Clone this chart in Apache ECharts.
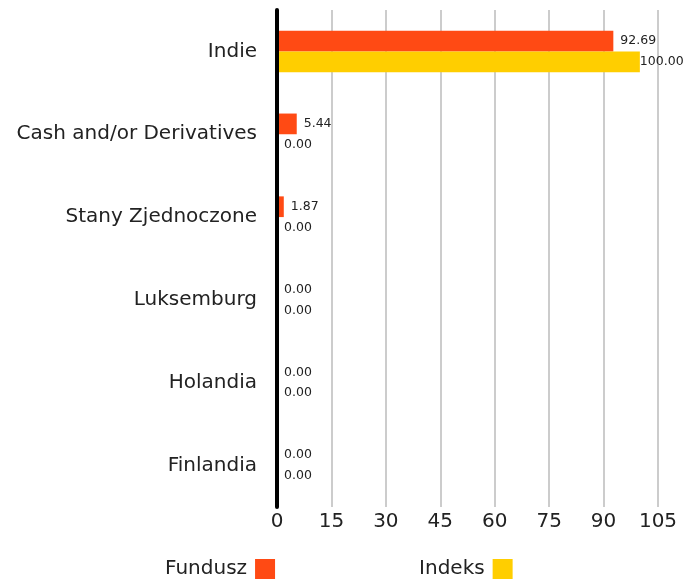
<!DOCTYPE html>
<html lang="pl">
<head>
    <meta charset="UTF-8">
    <title>Ekspozycja geograficzna</title>
    <script type="text/javascript" src="https://cdn.jsdelivr.net/npm/echarts@6/dist/echarts.min.js"></script>
</head>
<body style="margin:0">
  <div id="main" style="width:700px;height:581px;"></div>
</body>
<script>
    // dane
    var categories = ['Indie', 'Cash and/or Derivatives', 'Stany Zjednoczone', 'Luksemburg', 'Holandia', 'Finlandia'];
    var fundusz = [92.69, 5.44, 1.87, 0, 0, 0];
    var indeks = [100, 0, 0, 0, 0, 0];
    var xTicks = [0, 15, 30, 45, 60, 75, 90, 105];

    var FONT = 'DejaVu Sans';
    var myChart = echarts.init(document.getElementById('main'));

    function labelStyle() {
        return {
            show: true,
            position: 'right',
            distance: 7,
            color: '#222',
            fontSize: 12.5,
            fontFamily: FONT,
            formatter: function (p) { return p.value.toFixed(2); }
        };
    }

    // etykieta 100.00 przylega do słupka
    var indeksData = indeks.map(function (v) {
        return v >= 100 ? { value: v, label: { distance: 0 } } : v;
    });

    var option = {
        animation: false,
        textStyle: { fontFamily: FONT },
        grid: { left: 277, right: 42, top: 10, bottom: 74 },
        legend: {
            left: 160,
            top: 554,
            align: 'right',
            itemWidth: 20,
            itemHeight: 20,
            itemGap: 144,
            icon: 'rect',
            textStyle: { fontSize: 20, color: '#222', fontFamily: FONT, padding: [0, 3, 0, 0] },
            data: ['Fundusz', 'Indeks']
        },
        xAxis: {
            type: 'value',
            min: xTicks[0],
            max: xTicks[xTicks.length - 1],
            interval: 15,
            axisLine: { show: false },
            axisTick: { show: false },
            axisLabel: { fontSize: 20, color: '#222', margin: 5, fontFamily: FONT },
            splitLine: { show: true, lineStyle: { color: '#cccccc', width: 2 } }
        },
        yAxis: {
            type: 'category',
            inverse: true,
            data: categories,
            z: 5,
            axisLine: { show: true, lineStyle: { color: '#000', width: 4 } },
            axisTick: { show: false },
            axisLabel: { fontSize: 20, color: '#222', margin: 20, fontFamily: FONT }
        },
        series: [{
            name: 'Fundusz',
            type: 'bar',
            data: fundusz,
            barGap: '0%',
            barCategoryGap: '50%',
            itemStyle: { color: '#FF4A14' },
            label: labelStyle()
        }, {
            name: 'Indeks',
            type: 'bar',
            data: indeksData,
            itemStyle: { color: '#FFCE00' },
            label: labelStyle()
        }]
    };

    myChart.setOption(option);
</script>
</html>
